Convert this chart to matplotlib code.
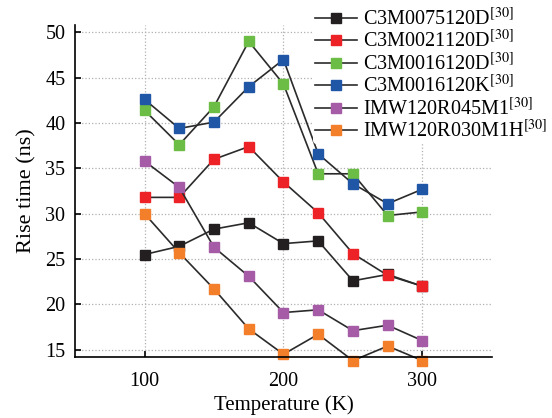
import numpy as np
import matplotlib
matplotlib.use('Agg')
import matplotlib.pyplot as plt

plt.rcParams['font.family'] = ['Liberation Serif', 'DejaVu Serif']
plt.rcParams['mathtext.fontset'] = 'stix'

# data
temps = [100, 125, 150, 175, 200, 225, 250, 275, 300]
c3m0075120d = [25.5, 26.4, 28.3, 29.0, 26.7, 27.0, 22.6, 23.3, 22.0]
c3m0021120d = [31.8, 31.8, 36.0, 37.4, 33.5, 30.1, 25.6, 23.2, 22.0]
c3m0016120d = [41.4, 37.6, 41.8, 49.0, 44.3, 34.4, 34.4, 29.8, 30.2]
c3m0016120k = [42.6, 39.4, 40.1, 44.0, 47.0, 36.6, 33.3, 31.1, 32.7]
imw120r045m1 = [35.8, 32.9, 26.3, 23.1, 19.1, 19.4, 17.1, 17.7, 16.0]
imw120r030m1h = [30.0, 25.7, 21.7, 17.3, 14.5, 16.7, 13.8, 15.4, 13.8]

names = ['C3M0075120D', 'C3M0021120D', 'C3M0016120D', 'C3M0016120K',
         'IMW120R045M1', 'IMW120R030M1H']
series = [c3m0075120d, c3m0021120d, c3m0016120d, c3m0016120k,
          imw120r045m1, imw120r030m1h]
colors = ['#231f20', '#ec2227', '#6bbd45', '#1f56a6', '#a55ba5', '#f37f2b']

fig = plt.figure(figsize=(5.52, 4.18), dpi=100)
ax = fig.add_axes([0.136, 0.146, 0.755, 0.794])

for name, vals, c in zip(names, series, colors):
    ax.plot(temps, vals, color='#2b2b2b', lw=1.2, marker='s', ms=7.5,
            mfc=c, mec=c, clip_on=False,
            label=name + r'$^{\mathrm{[30]}}$')

ax.set_xlim(50, 350)
ax.set_ylim(14.2, 50.8)
ax.set_xticks([100, 200, 300])
ax.set_yticks([15, 20, 25, 30, 35, 40, 45, 50])
ax.grid(True, color='#b0b0b0', ls=':', lw=0.9)
ax.set_axisbelow(True)
for s in ['top', 'right']:
    ax.spines[s].set_visible(False)
for s in ['left', 'bottom']:
    ax.spines[s].set_linewidth(1.2)
ax.tick_params(direction='in', length=4, width=1.2, labelsize=14.5)
ax.tick_params(axis='x', pad=11)
ax.tick_params(axis='y', pad=7)
ax.set_xlabel('Temperature (K)', fontsize=15, labelpad=3)
ax.set_ylabel('Rise time (ns)', fontsize=16, labelpad=6)

leg = ax.legend(loc='upper left', bbox_to_anchor=(0.57, 1.058), frameon=True,
                fontsize=14.5, labelspacing=0.02, handlelength=2.1,
                handletextpad=0.3, borderpad=0.1, borderaxespad=0)
leg.get_frame().set_edgecolor('none')
leg.get_frame().set_facecolor('white')
leg.get_frame().set_alpha(1)

fig.savefig('out.png', dpi=100)
